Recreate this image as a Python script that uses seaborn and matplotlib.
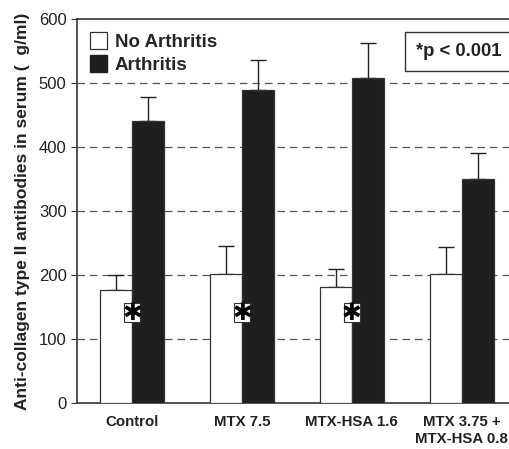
import matplotlib
matplotlib.use("Agg")
import matplotlib.pyplot as plt
import seaborn as sns
import pandas as pd
import numpy as np
from matplotlib.patches import Rectangle, Patch

categories = ["Control", "MTX 7.5", "MTX-HSA 1.6", "MTX 3.75 +\nMTX-HSA 0.8"]
groups = ["No Arthritis", "Arthritis"]
no_arthritis = [176, 202, 181, 202]
no_arthritis_err = [24, 43, 29, 41]
arthritis = [440, 489, 507, 350]
arthritis_err = [38, 46, 56, 41]
star_groups = [0, 1, 2]
yticks = [0, 100, 200, 300, 400, 500, 600]

df = pd.DataFrame({
    "cat": categories * 2,
    "group": [groups[0]] * 4 + [groups[1]] * 4,
    "val": no_arthritis + arthritis,
})

sns.set_style("white")
plt.rcParams["font.family"] = ["Liberation Sans", "DejaVu Sans"]

fig = plt.figure(figsize=(5.1, 4.49), dpi=100)
ax = fig.add_axes([0.151, 0.1025, 0.849, 0.8555])

sns.barplot(data=df, x="cat", y="val", hue="group", order=categories, hue_order=groups,
            palette={groups[0]: "white", groups[1]: "#201e1f"}, width=0.58, gap=0,
            edgecolor="#333333", linewidth=0.9, errorbar=None, legend=False, ax=ax, zorder=3)

patches = ax.patches
vals = no_arthritis + arthritis
errs = no_arthritis_err + arthritis_err
for p, v, e in zip(patches, vals, errs):
    cx = p.get_x() + p.get_width() / 2
    ax.errorbar(cx, v, yerr=[[0], [e]], fmt="none", ecolor="#222222", elinewidth=1.0,
                capsize=5.5, capthick=1.0, zorder=2)

# star boxes
bw = 0.15
for i in star_groups:
    p = patches[i]
    cx = p.get_x() + p.get_width()
    ax.add_patch(Rectangle((cx - bw / 2, 126), bw, 30, facecolor="white",
                           edgecolor="#333333", linewidth=0.8, zorder=5))
    ax.text(cx, 140, "\u2731", ha="center", va="center", fontsize=17,
            family="DejaVu Sans", color="black", zorder=6)

ax.set_ylim(0, 600)
ax.set_xlim(-0.5, 3.44)
ax.set_yticks(yticks)
ax.set_yticklabels([str(t) for t in yticks], fontsize=12, color="#222222")
for t in yticks[1:-1]:
    ax.axhline(t, color="#555555", linestyle=(0, (6, 4)), linewidth=0.9, zorder=1)

ax.set_xticks(range(4))
ax.set_xticklabels(categories, fontsize=10.8, fontweight="bold", color="#222222")
ax.tick_params(axis="x", length=0, pad=9)
ax.set_xticks([0.5, 1.5, 2.5], minor=True)
ax.tick_params(axis="x", which="minor", length=4, direction="out", color="#333333")
ax.tick_params(axis="y", length=4, direction="out", color="#333333", left=True)
ax.set_xlabel("")
ax.set_ylabel("Anti-collagen type II antibodies in serum (  g/ml)", fontsize=12.5,
              fontweight="bold", color="#222222", labelpad=6)

for s in ["left", "bottom", "top"]:
    ax.spines[s].set_color("#333333")
    ax.spines[s].set_linewidth(1.2)
ax.spines["right"].set_visible(False)

handles = [Patch(facecolor="white", edgecolor="#333333", linewidth=0.9, label=groups[0]),
           Patch(facecolor="#201e1f", edgecolor="#201e1f", label=groups[1])]
ax.legend(handles=handles, loc="upper left", frameon=False,
          prop={"weight": "bold", "size": 13.5}, handlelength=0.9, handleheight=1.0,
          handletextpad=0.4, labelspacing=0.25, borderaxespad=0.3,
          bbox_to_anchor=(0.0, 1.0))

ax.text(0.98, 0.915, "*p < 0.001", transform=ax.transAxes, ha="right", va="center",
        fontsize=13.3, fontweight="bold", color="#222222",
        bbox=dict(boxstyle="square,pad=0.6", facecolor="white", edgecolor="#333333", linewidth=1.0))

fig.savefig("out.png", dpi=100)
